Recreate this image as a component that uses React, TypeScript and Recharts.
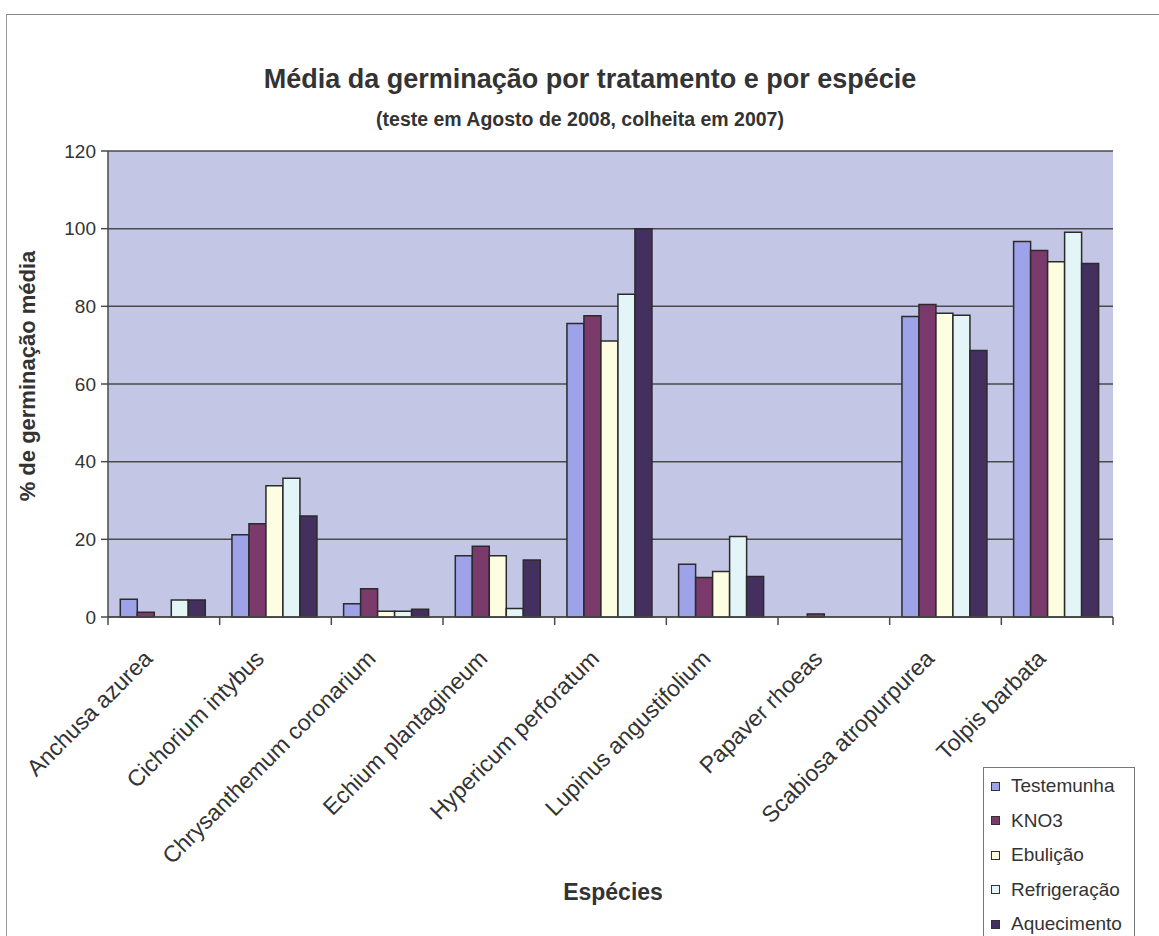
import React from 'react';
import { BarChart, Bar, XAxis, YAxis, CartesianGrid, Legend } from 'recharts';

const species = [
  'Anchusa azurea',
  'Cichorium intybus',
  'Chrysanthemum coronarium',
  'Echium plantagineum',
  'Hypericum perforatum',
  'Lupinus angustifolium',
  'Papaver rhoeas',
  'Scabiosa atropurpurea',
  'Tolpis barbata',
];

const testemunha = [4.6, 21.2, 3.4, 15.8, 75.6, 13.6, 0, 77.4, 96.7];
const kno3 = [1.2, 24.0, 7.3, 18.2, 77.6, 10.2, 0.8, 80.5, 94.4];
const ebulicao = [0, 33.8, 1.5, 15.8, 71.1, 11.7, 0, 78.2, 91.5];
const refrigeracao = [4.4, 35.7, 1.5, 2.2, 83.1, 20.7, 0, 77.7, 99.1];
const aquecimento = [4.4, 26.0, 2.0, 14.7, 100, 10.4, 0, 68.6, 91.0];

const seriesNames = ['Testemunha', 'KNO3', 'Ebulição', 'Refrigeração', 'Aquecimento'];
const yTicks = [0, 20, 40, 60, 80, 100, 120];

const seriesValues = [testemunha, kno3, ebulicao, refrigeracao, aquecimento];
const seriesColors = ['#9ea2e8', '#7a3a6c', '#fdfde2', '#e4f5f8', '#43305e'];

const data = species.map((name, i) => {
  const row: Record<string, string | number> = { species: name };
  seriesNames.forEach((s, k) => {
    row[s] = seriesValues[k][i];
  });
  return row;
});

const FONT = '"Liberation Sans", Arial, sans-serif';
const TEXT = '#333';
const LINE = '#4a4a4a';

function SpeciesTick(props: any) {
  const { x, y, payload, index } = props;
  const half = payload?.offset ?? 55.8;
  const tx = x - 10;
  const ty = y + 43;
  return (
    <g>
      <line x1={x - half} x2={x - half} y1={y} y2={y + 8} stroke={LINE} strokeWidth={1.5} />
      {index === species.length - 1 && (
        <line x1={x + half} x2={x + half} y1={y} y2={y + 8} stroke={LINE} strokeWidth={1.5} />
      )}
      <text
        x={tx}
        y={ty}
        transform={`rotate(-45 ${tx} ${ty})`}
        textAnchor="end"
        fontSize={23}
        fill={TEXT}
        fontFamily={FONT}
      >
        {payload.value}
      </text>
    </g>
  );
}

function LegendBox({ payload }: any) {
  const items = [...(payload || [])].sort(
    (a: any, b: any) => seriesNames.indexOf(a.value) - seriesNames.indexOf(b.value)
  );
  return (
    <div
      style={{
        border: '1px solid #777',
        background: '#fff',
        padding: '1px 6px 4px 7px',
        fontFamily: FONT,
        fontSize: 19,
        color: TEXT,
      }}
    >
      {items.map((p: any) => (
        <div key={p.value} style={{ display: 'flex', alignItems: 'center', height: 34.5 }}>
          <span
            style={{
              display: 'inline-block',
              width: 7,
              height: 7,
              background: p.color,
              border: '1.5px solid #333',
              marginRight: 11,
            }}
          />
          {p.value}
        </div>
      ))}
    </div>
  );
}

export default function App() {
  return (
    <div style={{ position: 'absolute', left: 0, top: 0, width: 1159, height: 936, background: '#fff', overflow: 'hidden' }}>
      {/* outer chart frame */}
      <div
        style={{
          position: 'absolute',
          left: 6,
          top: 14,
          width: 1200,
          height: 1000,
          borderTop: '1.5px solid #888',
          borderLeft: '1px solid #999',
        }}
      />
      <div
        style={{
          position: 'absolute',
          left: 0,
          width: 1180,
          top: 64,
          textAlign: 'center',
          fontFamily: FONT,
          fontWeight: 'bold',
          fontSize: 27,
          color: TEXT,
        }}
      >
        Média da germinação por tratamento e por espécie
      </div>
      <div
        style={{
          position: 'absolute',
          left: 0,
          width: 1160,
          top: 108,
          textAlign: 'center',
          fontFamily: FONT,
          fontWeight: 'bold',
          fontSize: 19.5,
          color: TEXT,
        }}
      >
        (teste em Agosto de 2008, colheita em 2007)
      </div>
      <div
        style={{
          position: 'absolute',
          left: 28,
          top: 376,
          transform: 'translate(-50%, -50%) rotate(-90deg)',
          whiteSpace: 'nowrap',
          fontFamily: FONT,
          fontWeight: 'bold',
          fontSize: 22,
          color: TEXT,
        }}
      >
        % de germinação média
      </div>
      <div
        style={{
          position: 'absolute',
          left: 613,
          top: 892,
          transform: 'translate(-50%, -50%)',
          whiteSpace: 'nowrap',
          fontFamily: FONT,
          fontWeight: 'bold',
          fontSize: 23,
          color: TEXT,
        }}
      >
        Espécies
      </div>
      <div style={{ position: 'absolute', left: 0, top: 0 }}>
        <BarChart
          width={1159}
          height={936}
          data={data}
          margin={{ top: 151, right: 46, bottom: 69, left: 48 }}
          barCategoryGap="11%"
          barGap={0}
        >
          <CartesianGrid vertical={false} fill="#c4c6e6" stroke={LINE} strokeWidth={1.5} />
          <XAxis
            dataKey="species"
            interval={0}
            height={250}
            tickSize={0}
            tickMargin={0}
            tick={<SpeciesTick />}
            axisLine={{ stroke: LINE, strokeWidth: 1.5 }}
            tickLine={false}
          />
          <XAxis xAxisId="top" orientation="top" dataKey="species" height={0} tick={false} tickLine={false} axisLine={{ stroke: '#777', strokeWidth: 1.5 }} />
          <YAxis
            domain={[0, 120]}
            ticks={yTicks}
            width={60}
            interval={0}
            tick={{ fontSize: 19, fill: TEXT, fontFamily: FONT }}
            tickSize={7}
            tickMargin={5}
            axisLine={{ stroke: LINE, strokeWidth: 1.5 }}
            tickLine={{ stroke: LINE, strokeWidth: 1.5 }}
          />
          <YAxis yAxisId="right" orientation="right" domain={[0, 120]} width={0} tick={false} tickLine={false} axisLine={{ stroke: '#888', strokeWidth: 1.5 }} />
          <Legend
            layout="vertical"
            align="center"
            verticalAlign="middle"
            content={<LegendBox />}
            wrapperStyle={{ left: 983, top: 767, width: 152 }}
          />
          {seriesNames.map((s, k) => (
            <Bar
              key={s}
              dataKey={s}
              fill={seriesColors[k]}
              stroke="#2b2b2b"
              strokeWidth={1.5}
              isAnimationActive={false}
            />
          ))}
        </BarChart>
      </div>
    </div>
  );
}
